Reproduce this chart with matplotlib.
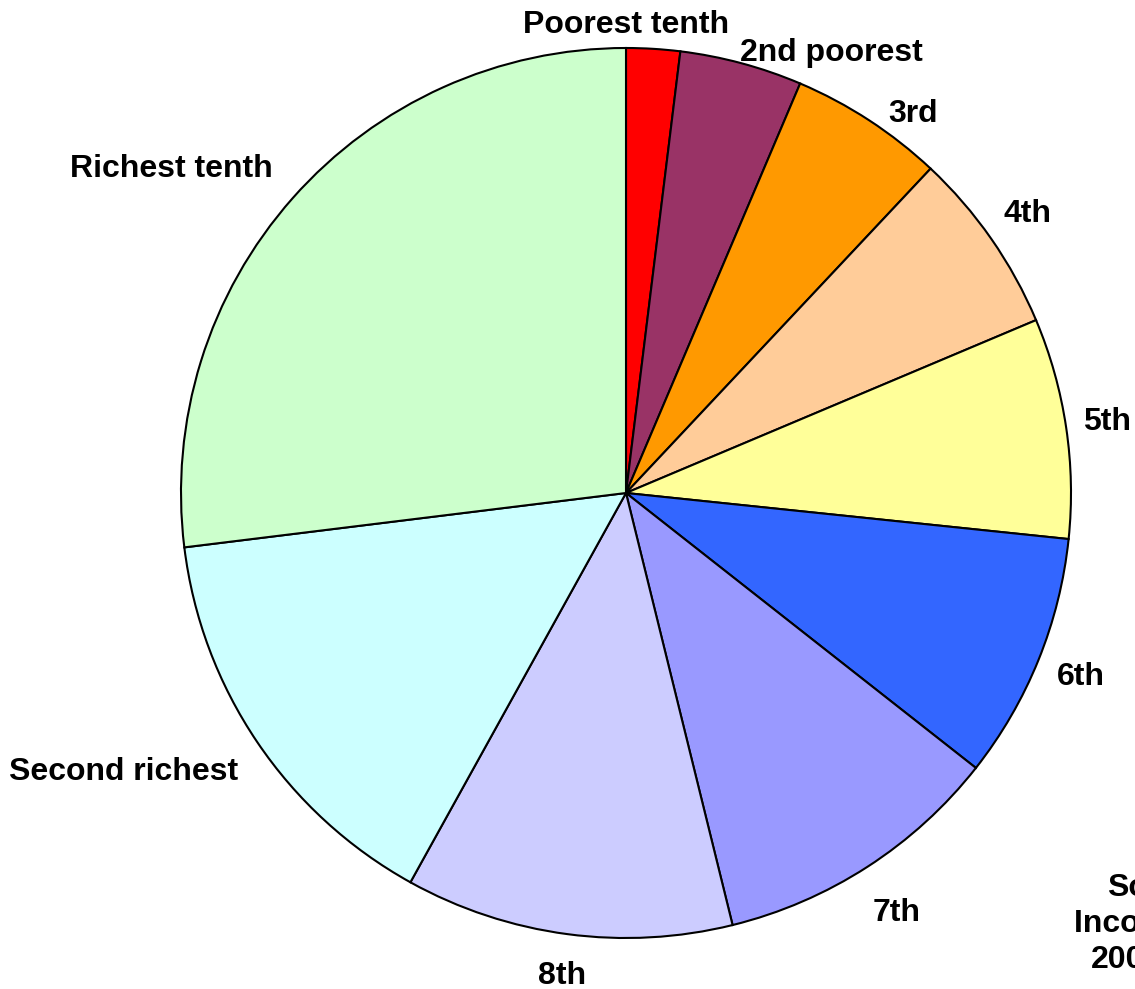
import math
import matplotlib
matplotlib.use('Agg')
import matplotlib.pyplot as plt

# income share by tenth (percent)
groups = ['Poorest tenth', '2nd poorest', '3rd', '4th', '5th', '6th', '7th', '8th',
          'Second richest', 'Richest tenth']
shares = [1.95, 4.45, 5.6, 6.65, 8.0, 8.95, 10.55, 11.9, 15.0, 26.95]
colors = ['#FF0000', '#993366', '#FF9900', '#FFCC99', '#FFFF99', '#3366FF', '#9999FF',
          '#CCCCFF', '#CCFFFF', '#CCFFCC']
source_text = 'Source:\nIncome data\n2000/2001'

# layout: angle nudges (degrees, clockwise) and rim gaps (pixels) for each label
label_nudge = [-3.5, 10, 4, 0, 0, 0, 0, 0, 5, -6]
label_gap = [8, -12, 4, 16, 15, 18, 29, 24, 22, 22]

plt.rcParams['font.family'] = ['Liberation Sans', 'DejaVu Sans']
W, H, R = 1135, 989, 445
cx, cy = 626, 989 - 493

fig = plt.figure(figsize=(W / 100, H / 100), dpi=100)
ax = fig.add_axes([(cx - R) / W, (cy - R) / H, 2 * R / W, 2 * R / H])
wedges, _ = ax.pie(shares, colors=colors, startangle=90, counterclock=False, radius=1,
                   wedgeprops=dict(edgecolor='black', linewidth=1.5))
ax.set_xlim(-1, 1)
ax.set_ylim(-1, 1)
ax.set_aspect('equal')
ax.axis('off')

renderer = fig.canvas.get_renderer()
for w, name, nudge, gap in zip(wedges, groups, label_nudge, label_gap):
    mid = math.radians((w.theta1 + w.theta2) / 2 - nudge)
    c, s = math.cos(mid), math.sin(mid)
    t = ax.text(0, 0, name, ha='center', va='center', fontsize=23, fontweight='bold')
    bb = t.get_window_extent(renderer)
    ext = abs(c) * bb.width / 2 + abs(s) * bb.height / 2
    d = 1 + (gap + ext) / R
    t.set_position((d * c, d * s))

fig.text(1167 / W, 1 - 924 / H, source_text, ha='center', va='center', fontsize=23,
         fontweight='bold', linespacing=1.25)

fig.savefig('out.png', dpi=100, facecolor='white')
